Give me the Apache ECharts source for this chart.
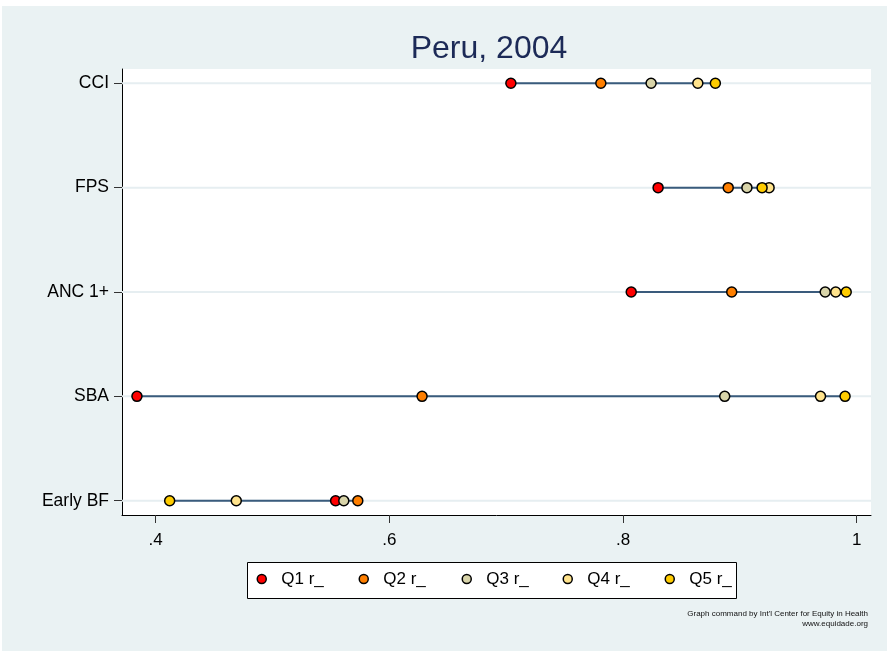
<!DOCTYPE html>
<html>
<head>
<meta charset="utf-8">
<script src="https://cdn.jsdelivr.net/npm/echarts@6/dist/echarts.min.js"></script>
<style>
  html, body { margin: 0; padding: 0; background: #ffffff; }
  #chart { width: 887px; height: 651px; }
</style>
</head>
<body>
<div id="chart"></div>
<script>
// ---- data ----
const categories = ['CCI', 'FPS', 'ANC 1+', 'SBA', 'Early BF'];
const seriesNames = ['Q1 r_', 'Q2 r_', 'Q3 r_', 'Q4 r_', 'Q5 r_'];
const q1 = [0.704, 0.830, 0.807, 0.384, 0.554];
const q2 = [0.781, 0.890, 0.893, 0.628, 0.573];
const q3 = [0.824, 0.906, 0.973, 0.887, 0.561];
const q4 = [0.864, 0.925, 0.982, 0.969, 0.469];
const q5 = [0.879, 0.919, 0.991, 0.990, 0.412];
const xTicks = [0.4, 0.6, 0.8, 1];
const titleText = 'Peru, 2004';
const noteLines = ["Graph command by Int'l Center for Equity in Health", 'www.equidade.org'];

// ---- styles ----
const colors = ['#FF0000', '#FF7F00', '#D8D4A9', '#FFE38C', '#FFCC00'];
const FONT = '"Liberation Sans", Arial, Helvetica, sans-serif';
const qs = [q1, q2, q3, q4, q5];
const legendCenters = [261, 363, 466, 567, 669];

const rangeData = categories.map((c, i) => {
  const vals = qs.map(q => q[i]);
  return [i, Math.min(...vals), Math.max(...vals)];
});
const gridData = categories.map((c, i) => [i]);

const chart = echarts.init(document.getElementById('chart'), null, { renderer: 'canvas' });

const series = [
  {
    type: 'custom',
    name: 'grid',
    silent: true,
    z: 1,
    data: gridData,
    encode: { y: 0 },
    renderItem: (params, api) => {
      const idx = api.value(0);
      const cs = params.coordSys;
      const y = api.coord([0.5, idx])[1];
      return {
        type: 'line',
        shape: { x1: cs.x, y1: y, x2: cs.x + cs.width, y2: y },
        style: { stroke: '#E6EEF1', lineWidth: 2 }
      };
    }
  },
  {
    type: 'custom',
    name: 'range',
    silent: true,
    z: 2,
    data: rangeData,
    encode: { x: [1, 2], y: 0 },
    renderItem: (params, api) => {
      const idx = api.value(0);
      const p1 = api.coord([api.value(1), idx]);
      const p2 = api.coord([api.value(2), idx]);
      return {
        type: 'line',
        shape: { x1: p1[0], y1: p1[1], x2: p2[0], y2: p2[1] },
        style: { stroke: '#3A5B7C', lineWidth: 2 }
      };
    }
  }
];
seriesNames.forEach((name, k) => {
  series.push({
    type: 'scatter',
    name: name,
    z: 3 + k,
    symbol: 'circle',
    symbolSize: 10,
    itemStyle: { color: colors[k], borderColor: '#000', borderWidth: 1.5, opacity: 1 },
    data: qs[k].map((v, i) => [v, i])
  });
});

const legends = seriesNames.map((name, k) => ({
  data: [name],
  left: legendCenters[k] - 4.5,
  top: 570,
  padding: 0,
  orient: 'horizontal',
  icon: 'circle',
  itemWidth: 9,
  itemHeight: 9,
  itemGap: 0,
  itemStyle: { borderColor: '#000', borderWidth: 1.5 },
  selectedMode: false,
  textStyle: { fontFamily: FONT, fontSize: 17, color: '#000', lineHeight: 18, padding: [0, 0, 0, 10] }
}));

const option = {
  animation: false,
  backgroundColor: '#EAF2F3',
  title: {
    text: titleText,
    left: 484,
    textAlign: 'center',
    top: 28,
    textStyle: { fontFamily: FONT, fontSize: 32, fontWeight: 'normal', color: '#1C2A57' }
  },
  grid: {
    left: 122, right: 16, top: 69, bottom: 136,
    show: true, backgroundColor: '#FFFFFF', borderWidth: 0
  },
  xAxis: {
    type: 'value',
    min: 0.3712,
    max: 1.0122,
    axisLine: { show: true, onZero: false, lineStyle: { color: '#000', width: 1 } },
    axisTick: { show: true, customValues: xTicks, length: 8, lineStyle: { color: '#333', width: 1 } },
    axisLabel: {
      customValues: xTicks,
      margin: 17,
      fontFamily: FONT, fontSize: 17, color: '#000',
      formatter: v => (v >= 1 ? String(v) : String(v).replace(/^0/, ''))
    },
    splitLine: { show: false }
  },
  yAxis: {
    type: 'value',
    inverse: true,
    min: -0.137,
    max: 4.137,
    axisLine: { show: true, onZero: false, lineStyle: { color: '#000', width: 1 } },
    axisTick: { show: true, customValues: [0, 1, 2, 3, 4], length: 8, lineStyle: { color: '#333', width: 1 } },
    axisLabel: {
      customValues: [0, 1, 2, 3, 4],
      margin: 13,
      fontFamily: FONT, fontSize: 17.5, color: '#000',
      formatter: v => categories[Math.round(v)]
    },
    splitLine: { show: false }
  },
  legend: legends,
  graphic: [
    { type: 'rect', shape: { x: 0, y: 0, width: 887, height: 6 }, style: { fill: '#FFFFFF' }, silent: true },
    { type: 'rect', shape: { x: 0, y: 0, width: 2, height: 651 }, style: { fill: '#FFFFFF' }, silent: true },
    { type: 'rect', z: -1, shape: { x: 247.5, y: 562.5, width: 489, height: 36 }, style: { fill: '#FFFFFF', stroke: '#000', lineWidth: 1 }, silent: true },
    { type: 'text', x: 868, y: 614, style: { text: noteLines[0], fill: '#111', font: '8px ' + FONT, textAlign: 'right', textVerticalAlign: 'middle' } },
    { type: 'text', x: 868, y: 624, style: { text: noteLines[1], fill: '#111', font: '8px ' + FONT, textAlign: 'right', textVerticalAlign: 'middle' } }
  ],
  series: series
};
chart.setOption(option);
</script>
</body>
</html>
